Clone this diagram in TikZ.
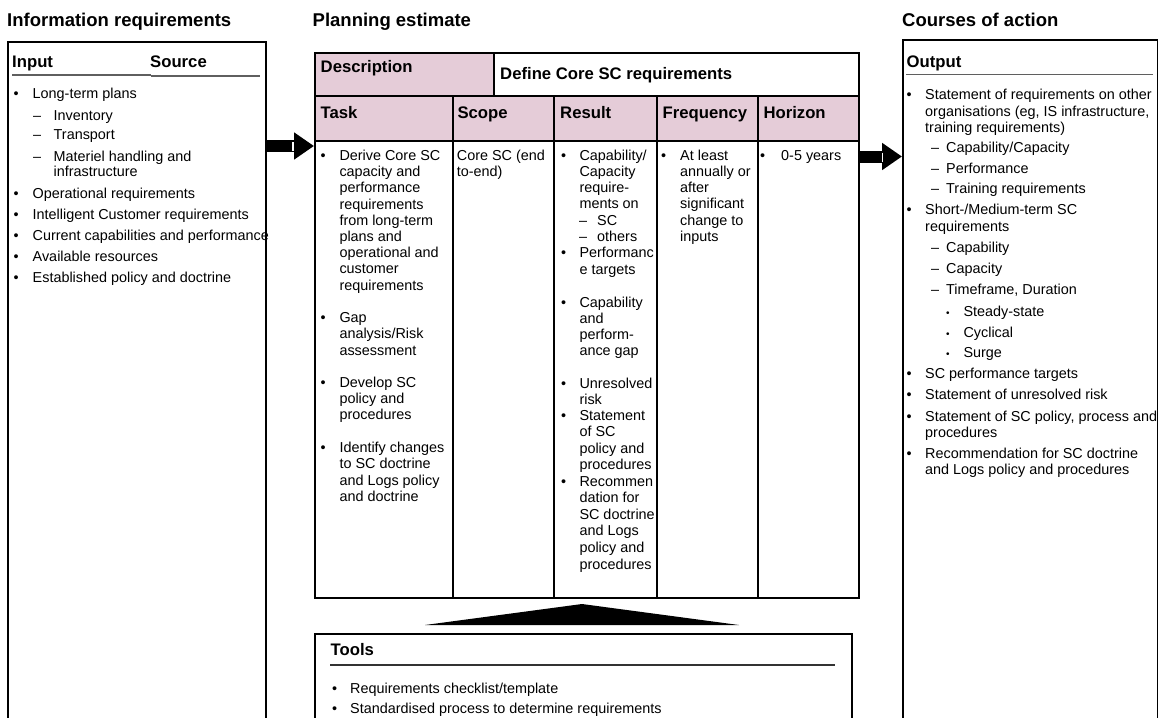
\documentclass[tikz,border=0pt]{standalone}
\usepackage{fontspec}
\setmainfont{Liberation Sans}
\usetikzlibrary{arrows.meta,calc}
\definecolor{hdrpink}{RGB}{229,204,216}
\definecolor{rulegray}{RGB}{95,95,95}
\newcounter{lnc}
\newcommand\Ln[3]{\stepcounter{lnc}\node[txt] (t\arabic{lnc}) at (#1,#2) {#3};}
\newcommand\Bul[4]{\Ln{#1}{#3}{•}\Ln{#2}{#3}{#4}}
\newcommand\Sdot[4]{\Ln{#1}{#3}{\fontsize{10}{10}\selectfont •}\Ln{#2}{#3}{#4}}
\begin{document}
\begin{tikzpicture}[x=1pt,y=-1pt,
  txt/.style={inner sep=0pt, anchor=west, font=\fontsize{14.4}{16}\selectfont, text height=10.3pt, text depth=0pt},
  hdr/.style={txt, font=\bfseries\fontsize{16.7}{19}\selectfont, text height=12pt},
  ttl/.style={txt, font=\bfseries\fontsize{18.5}{21}\selectfont, text height=13.3pt},
  box/.style={draw, line width=2pt, inner sep=0pt, anchor=north west},
  uline/.style={draw=rulegray, line width=1.6pt},
  bigarrow/.style={line width=12pt, -{Triangle[length=20pt,width=26pt]}},
  notch/.style={white, line width=1.3pt}]
\useasboundingbox (0,0) rectangle (1158,717);
\clip (0,0) rectangle (1158,717);

% titles
\node[ttl] (ttlin) at (7,19.5) {Information requirements};
\node[ttl] (ttlplan) at (312.5,19.5) {Planning estimate};
\node[ttl] (ttlout) at (902,19.5) {Courses of action};

% ---------- left box
\node[box, minimum width=258pt, minimum height=720pt] (inbox) at (7,41) {};
\node[hdr] (inH) at (12,61) {Input};
\node[hdr] (srcH) at (150,61) {Source};
\draw[uline] (12,75) -- (151,75);
\draw[uline] (151,76) -- (260,76);
\Bul{13.5}{32.5}{93.6}{Long-term plans}
\Ln{33}{115.3}{–}\Ln{53.5}{115.3}{Inventory}
\Ln{33}{134.7}{–}\Ln{53.5}{134.7}{Transport}
\Ln{33}{156}{–}\Ln{53.5}{156}{Materiel handling and}
\Ln{53.5}{171.7}{infrastructure}
\Bul{13.5}{32.5}{193.7}{Operational requirements}
\Bul{13.5}{32.5}{214.7}{Intelligent Customer requirements}
\Bul{13.5}{32.5}{235.3}{Current capabilities and performance}
\Bul{13.5}{32.5}{256}{Available resources}
\Bul{13.5}{32.5}{277.2}{Established policy and doctrine}

% ---------- table
\node[box, fill=hdrpink, minimum width=179pt, minimum height=43pt] (desc) at (314,52) {};
\node[box, minimum width=365pt, minimum height=43pt] (define) at (493,52) {};
\node[box, fill=hdrpink, minimum width=138pt, minimum height=45pt] (htask) at (314,95) {};
\node[box, fill=hdrpink, minimum width=101pt, minimum height=45pt] (hscope) at (452,95) {};
\node[box, fill=hdrpink, minimum width=103pt, minimum height=45pt] (hresult) at (553,95) {};
\node[box, fill=hdrpink, minimum width=101pt, minimum height=45pt] (hfreq) at (656,95) {};
\node[box, fill=hdrpink, minimum width=101pt, minimum height=45pt] (hhor) at (757,95) {};
\node[box, minimum width=138pt, minimum height=457pt] (btask) at (314,140) {};
\node[box, minimum width=101pt, minimum height=457pt] (bscope) at (452,140) {};
\node[box, minimum width=103pt, minimum height=457pt] (bresult) at (553,140) {};
\node[box, minimum width=101pt, minimum height=457pt] (bfreq) at (656,140) {};
\node[box, minimum width=101pt, minimum height=457pt] (bhor) at (757,140) {};

\node[hdr] (descL) at (320.5,67) {Description};
\node[hdr] (defineL) at (500,73.3) {Define Core SC requirements};
\node[hdr] (taskL) at (320.5,112.5) {Task};
\node[hdr] (scopeL) at (457.3,112.5) {Scope};
\node[hdr] (resultL) at (560,112.5) {Result};
\node[hdr] (freqL) at (662.5,112.5) {Frequency};
\node[hdr] (horL) at (763.3,112.5) {Horizon};

% Task
\Bul{320.5}{339.3}{155.3}{Derive Core SC}
\Ln{339.3}{171.5}{capacity and}
\Ln{339.3}{187.7}{performance}
\Ln{339.3}{203.9}{requirements}
\Ln{339.3}{220}{from long-term}
\Ln{339.3}{236}{plans and}
\Ln{339.3}{252.5}{operational and}
\Ln{339.3}{268.5}{customer}
\Ln{339.3}{285}{requirements}
\Bul{320.5}{339.3}{317.7}{Gap}
\Ln{339.3}{333.8}{analysis/Risk}
\Ln{339.3}{350}{assessment}
\Bul{320.5}{339.3}{382.5}{Develop SC}
\Ln{339.3}{398.5}{policy and}
\Ln{339.3}{414.8}{procedures}
\Bul{320.5}{339.3}{447.5}{Identify changes}
\Ln{339.3}{463.7}{to SC doctrine}
\Ln{339.3}{480}{and Logs policy}
\Ln{339.3}{496.5}{and doctrine}

% Scope
\Ln{456.7}{155.3}{Core SC (end}
\Ln{456.7}{171.5}{to-end)}

% Result
\Bul{561}{579.3}{155.3}{Capability/}
\Ln{579.3}{171.5}{Capacity}
\Ln{579.3}{187.7}{require-}
\Ln{579.3}{203.7}{ments on}
\Ln{579}{220}{–}\Ln{597}{220}{SC}
\Ln{579}{236}{–}\Ln{597}{236}{others}
\Bul{561}{579.3}{252.8}{Performanc}
\Ln{579.3}{269.5}{e targets}
\Bul{561}{579.3}{302}{Capability}
\Ln{579.3}{318}{and}
\Ln{579.3}{334}{perform-}
\Ln{579.3}{350.5}{ance gap}
\Bul{561}{579.3}{383}{Unresolved}
\Ln{579.3}{399}{risk}
\Bul{561}{579.3}{415}{Statement}
\Ln{579.3}{431.5}{of SC}
\Ln{579.3}{448}{policy and}
\Ln{579.3}{464.5}{procedures}
\Bul{561}{579.3}{481}{Recommen}
\Ln{579.3}{497.5}{dation for}
\Ln{579.3}{514}{SC doctrine}
\Ln{579.3}{530.5}{and Logs}
\Ln{579.3}{547}{policy and}
\Ln{579.3}{564}{procedures}

% Frequency
\Bul{661}{680}{155.3}{At least}
\Ln{680}{171.5}{annually or}
\Ln{680}{187.7}{after}
\Ln{680}{203.7}{significant}
\Ln{680}{220}{change to}
\Ln{680}{236}{inputs}

% Horizon
\Bul{760}{781}{155.3}{0-5 years}

% ---------- right box
\node[box, minimum width=255pt, minimum height=720pt] (outbox) at (902,39) {};
\node[hdr] (outH) at (906.5,61) {Output};
\draw[uline] (906,74.5) -- (1153,74.5);
\Bul{906.5}{925}{94.7}{Statement of requirements on other}
\Ln{925}{111.3}{organisations (eg, IS infrastructure,}
\Ln{925}{127.7}{training requirements)}
\Ln{931}{147.2}{–}\Ln{946}{147.2}{Capability/Capacity}
\Ln{931}{168}{–}\Ln{946}{168}{Performance}
\Ln{931}{188}{–}\Ln{946}{188}{Training requirements}
\Bul{906.5}{925}{209.5}{Short-/Medium-term SC}
\Ln{925}{226}{requirements}
\Ln{931}{247.2}{–}\Ln{946}{247.2}{Capability}
\Ln{931}{268}{–}\Ln{946}{268}{Capacity}
\Ln{931}{289}{–}\Ln{946}{289}{Timeframe, Duration}
\Sdot{946}{963.3}{311.3}{Steady-state}
\Sdot{946}{963.3}{332}{Cyclical}
\Sdot{946}{963.3}{352}{Surge}
\Bul{906.5}{925}{373.7}{SC performance targets}
\Bul{906.5}{925}{394.7}{Statement of unresolved risk}
\Bul{906.5}{925}{416}{Statement of SC policy, process and}
\Ln{925}{432}{procedures}
\Bul{906.5}{925}{453}{Recommendation for SC doctrine}
\Ln{925}{469.7}{and Logs policy and procedures}

% ---------- tools
\node[box, minimum width=537pt, minimum height=200pt] (tools) at (314,633) {};
\node[hdr] (toolsH) at (330.5,649) {Tools};
\draw[uline, draw=black!80] (330,665) -- (835,665);
\Bul{332}{350}{688}{Requirements checklist/template}
\Bul{332}{350}{708}{Standardised process to determine requirements}

% pointer from tools to table
\coordinate (pl) at (425,625);
\coordinate (pt) at (582,604);
\coordinate (pr) at (739,625);
\fill (pl) -- (pt) -- (pr) -- cycle;

% ---------- arrows
\coordinate (ayL) at (0,146);
\coordinate (ayR) at (0,156.5);
\draw[bigarrow] (inbox.east |- ayL) -- (btask.west |- ayL);
\draw[bigarrow] (bhor.east |- ayR) -- (outbox.west |- ayR);
\draw[notch] (293,142) -- (293,151);
\draw[notch] (882.5,152.5) -- (882.5,161.5);
\end{tikzpicture}
\end{document}
